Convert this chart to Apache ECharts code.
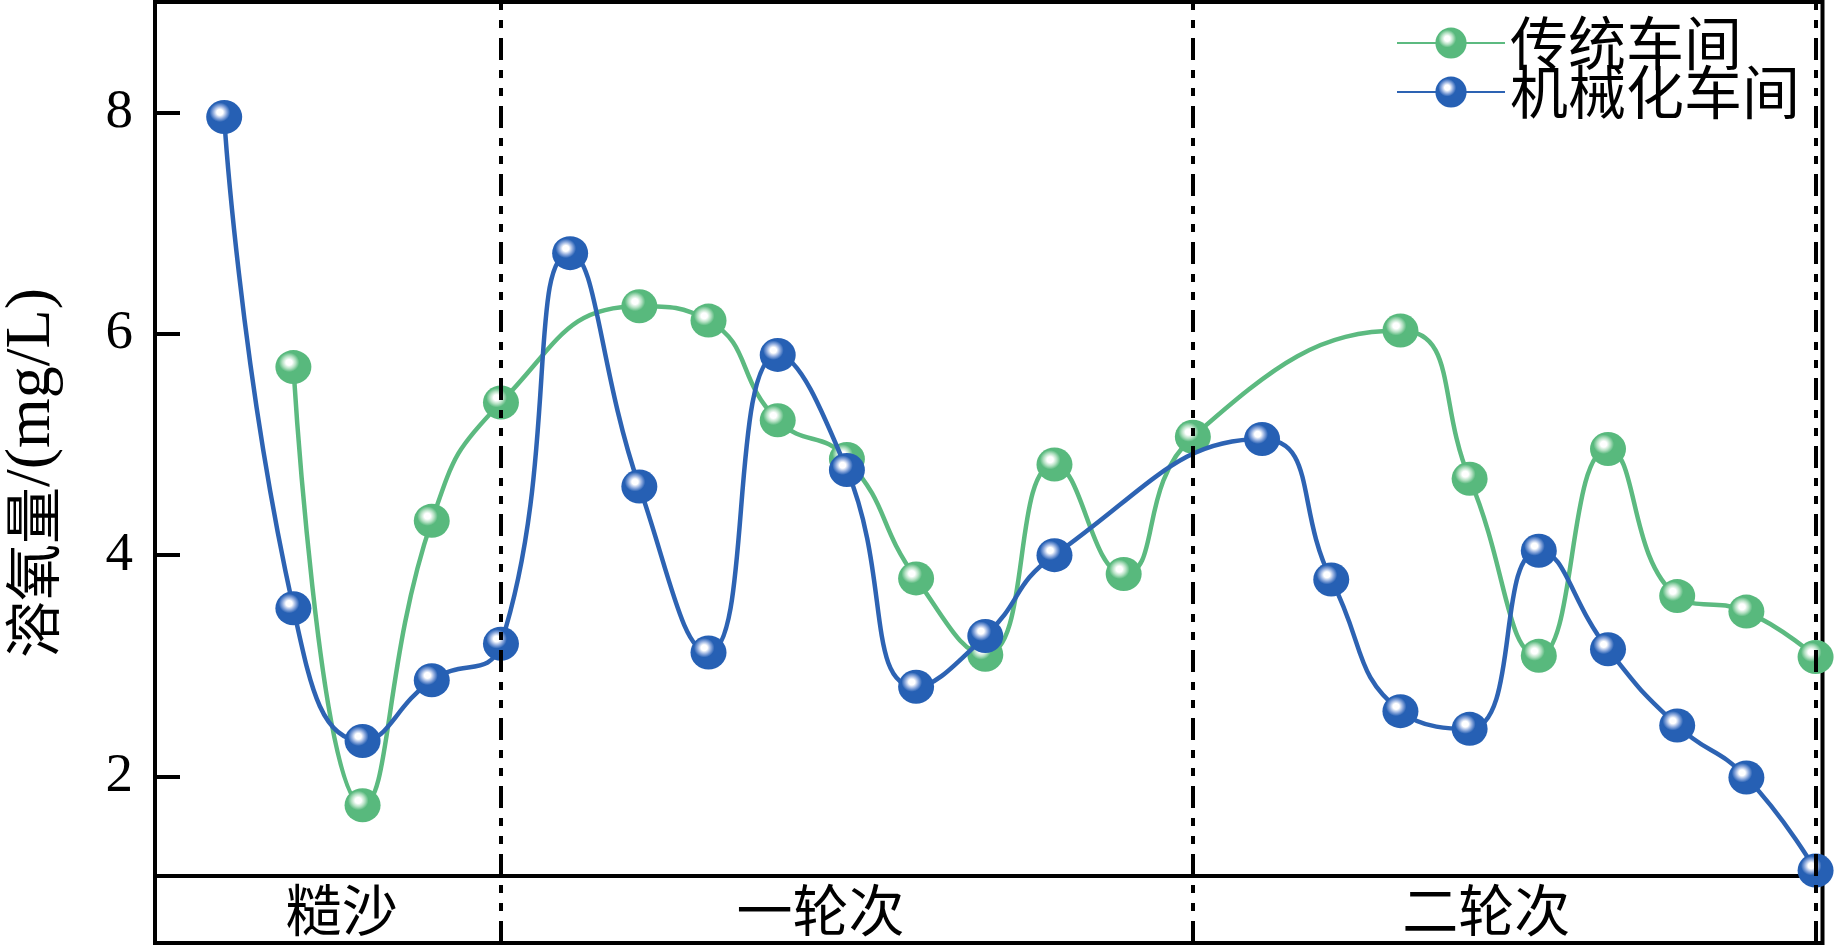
<!DOCTYPE html>
<html><head><meta charset="utf-8">
<script src="https://cdn.jsdelivr.net/npm/echarts@6/dist/echarts.min.js"></script>
<style>html,body{margin:0;padding:0;background:#fff}#c{width:1835px;height:946px}</style>
</head><body><div id="c"></div>
<script>
// sample positions (index along the process)
const samplePos = [0,1,2,3,4,5,6,7,8,9,10,11,12,13,14,15,16,17,18,19,20,21,22,23];
// 传统车间 (traditional workshop)
const traditional = [null,5.70,1.74,4.31,5.38,null,6.25,6.12,5.22,4.87,3.79,3.10,4.82,3.83,5.07,null,null,6.03,4.69,3.09,4.96,3.63,3.49,3.08];
// 机械化车间 (mechanized workshop)
const mechanized = [7.96,3.52,2.32,2.87,3.20,6.73,4.62,3.12,5.81,4.77,2.81,3.27,4.00,null,null,5.05,3.78,2.59,2.43,4.04,3.15,2.46,1.99,1.15];
const seriesNames = ['传统车间','机械化车间'];
const yTicks = [2,4,6,8];
const stageNames = ['糙沙','一轮次','二轮次'];
const stageLabelPos = [1.70, 8.62, 18.24];
const stageBounds = [4, 14, 23];

function pairs(vals){
  const out = [];
  vals.forEach((v,i)=>{ if (v !== null) out.push([samplePos[i], v]); });
  return out;
}
function sphere(base, ring){
  return {type:'radial', x:0.38, y:0.36, r:0.62, colorStops:[
    {offset:0, color:'#ffffff'},{offset:0.14, color:'#ffffff'},
    {offset:0.3, color:ring},{offset:0.46, color:base},{offset:1, color:base}]};
}
const dash = [22,10,8,10,8,10];
const markLineCfg = {
  symbol:['none','none'], silent:true, animation:false,
  label:{show:false},
  lineStyle:{color:'#000', width:4, type:dash},
  emphasis:{disabled:true},
  data: stageBounds.map(v=>({xAxis:v}))
};

const chart = echarts.init(document.getElementById('c'));
chart.setOption({
  animation:false,
  backgroundColor:'#fff',
  grid:[
    {left:155, right:12.5, top:2, bottom:70, show:true, borderColor:'#000', borderWidth:4, containLabel:false, outerBoundsMode:'none'},
    {left:155, right:12.5, top:876, height:67, show:true, borderColor:'#000', borderWidth:4, containLabel:false, outerBoundsMode:'none'}
  ],
  legend:{
    orient:'vertical', left:1391, top:9, itemWidth:108, itemHeight:39, itemGap:-9,
    selectedMode:false, data:seriesNames,
    textStyle:{fontFamily:'Noto Sans CJK SC', fontSize:58, lineHeight:50, color:'#000'}
  },
  xAxis:[
    {gridIndex:0, type:'value', min:-1, max:23.1, axisLine:{show:false, onZero:false}, axisTick:{show:false}, axisLabel:{show:false}, splitLine:{show:false}},
    {gridIndex:1, type:'value', min:-1, max:23.1, position:'top', axisLine:{show:false, onZero:false}, axisTick:{show:false}, splitLine:{show:false},
      axisLabel:{inside:true, margin:6, customValues:stageLabelPos, fontFamily:'Noto Sans CJK SC', fontSize:56, lineHeight:56, color:'#000',
        formatter:function(v){ let best=0; stageLabelPos.forEach((p,i)=>{ if (Math.abs(p-v)<Math.abs(stageLabelPos[best]-v)) best=i; }); return stageNames[best]; }}}
  ],
  yAxis:[
    {gridIndex:0, type:'value', min:1.1, max:9.0,
      axisLine:{show:false, onZero:false}, splitLine:{show:false},
      axisTick:{show:true, inside:true, length:25, customValues:yTicks, lineStyle:{color:'#000', width:4}},
      axisLabel:{customValues:yTicks, margin:22, fontFamily:'Liberation Serif', fontSize:55, color:'#000'},
      name:'{a|溶氧量}{b|/(mg/L)}', nameLocation:'middle', nameRotate:90, nameGap:91,
      nameTextStyle:{padding:[0,68,0,0], rich:{
        a:{fontFamily:'Noto Sans CJK SC', fontSize:57, color:'#000'},
        b:{fontFamily:'Liberation Serif', fontSize:64, color:'#000'}}}},
    {gridIndex:1, type:'value', min:0, max:1, show:false}
  ],
  series:[
    {name:seriesNames[0], type:'line', xAxisIndex:0, yAxisIndex:0, data:pairs(traditional), smooth:0.5,
      symbol:'circle', symbolSize:[36,34], lineStyle:{color:'#5cba80', width:4.5},
      itemStyle:{color:sphere('#58b97d','#b3e0c2')}, emphasis:{disabled:true}, z:3},
    {name:seriesNames[1], type:'line', xAxisIndex:0, yAxisIndex:0, data:pairs(mechanized), smooth:0.5,
      symbol:'circle', symbolSize:[36,34], lineStyle:{color:'#2d63b3', width:4.5},
      itemStyle:{color:sphere('#2660b4','#8fabdd')}, emphasis:{disabled:true}, z:4, clip:false,
      markLine:markLineCfg},
    {name:'bands', type:'line', xAxisIndex:1, yAxisIndex:1, data:[], markLine:markLineCfg}
  ]
});
</script></body></html>
